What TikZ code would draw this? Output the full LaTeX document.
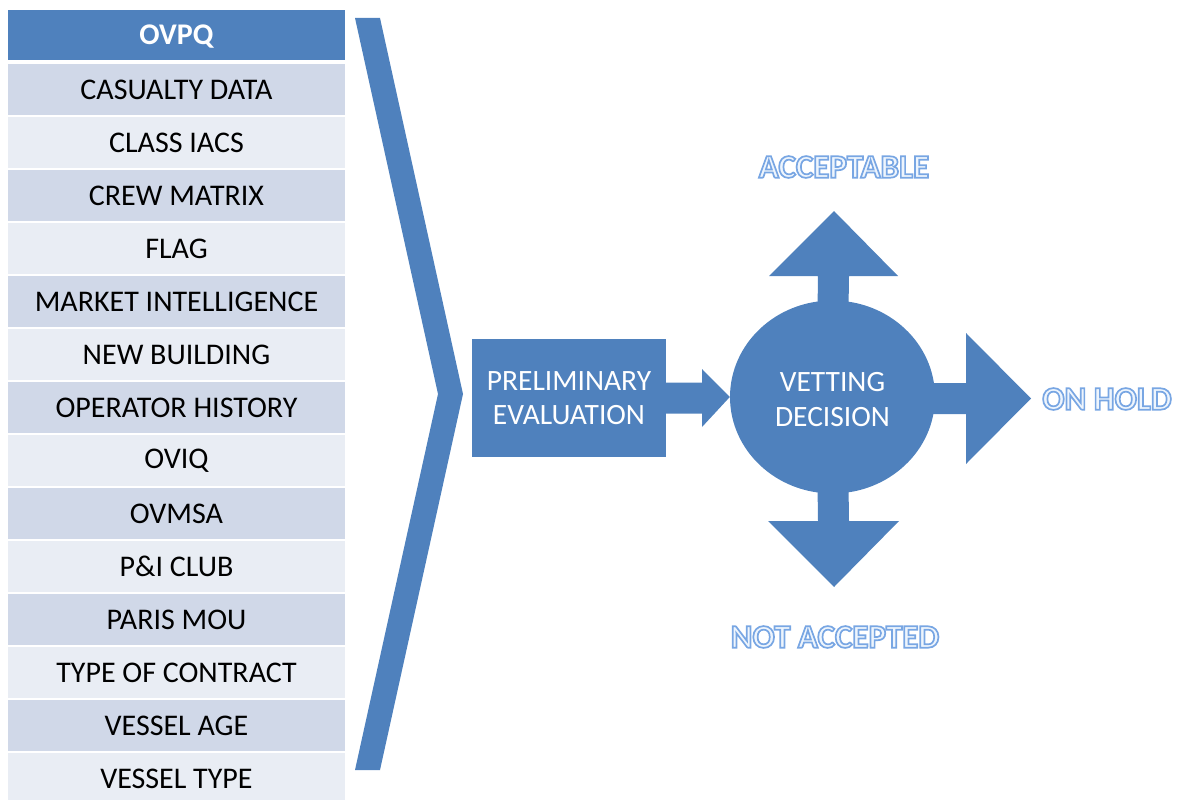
\documentclass[tikz,border=0pt]{standalone}
\usepackage{fontspec}
\setmainfont{Carlito}
\usetikzlibrary{shapes.geometric,calc}
\definecolor{hdr}{HTML}{4F81BD}
\definecolor{rowA}{HTML}{D0D8E8}
\definecolor{rowB}{HTML}{E9EDF4}
\definecolor{lblfill}{HTML}{EEF5FD}
\newcommand\outlinetext[1]{{\color{lblfill}\special{pdf:literal direct 2 Tr 1.7 w 0.47 0.65 0.89 RG}#1\special{pdf:literal direct 0 Tr 1 w}}}
\begin{document}
\begin{tikzpicture}[x=1pt,y=-1pt,
  cell/.style={rectangle, minimum width=337pt, minimum height=51pt, inner sep=0pt,
    font=\fontsize{30}{32}\selectfont, text=black},
  blue/.style={fill=hdr, draw=none},
  lbl/.style={inner sep=0pt, font=\fontsize{33}{36}\selectfont\bfseries}]
\useasboundingbox (0,0) rectangle (1179,800);
\node[cell, fill=hdr, minimum height=50pt] (h) at (176.5,35) {};
\node[text=white, inner sep=0pt, font=\fontsize{30}{32}\selectfont\bfseries] at ($(h.center)+(0,2)$) {OVPQ};
\foreach \c/\t [count=\i] in {rowA/CASUALTY DATA, rowB/CLASS IACS, rowA/CREW MATRIX, rowB/FLAG,
  rowA/MARKET INTELLIGENCE, rowB/NEW BUILDING, rowA/OPERATOR HISTORY, rowB/OVIQ, rowA/OVMSA,
  rowB/{P\&I CLUB}, rowA/PARIS MOU, rowB/TYPE OF CONTRACT, rowA/VESSEL AGE, rowB/VESSEL TYPE}
  \node[cell, fill=\c] (r\i) at (176.5,{89.5+53*(\i-1)}) {\t};
% chevron
\fill[hdr] (355,18) -- (380,18) -- (463,394) -- (380,770) -- (355,770) -- (438,394) -- cycle;
% boxes
\node[rectangle, blue, minimum width=194pt, minimum height=118pt, inner sep=0pt, text=white,
  align=center, font=\fontsize{29.5}{34.5}\selectfont] (pe) at (569,398) {PRELIMINARY\\EVALUATION};
\node[ellipse, blue, minimum width=205pt, minimum height=193pt, inner sep=0pt] (vd) at (832.5,397) {};
\node[inner sep=0pt, text=white, align=center, font=\fontsize{29.5}{35}\selectfont] at ($(vd.center)+(0,2.5)$) {VETTING\\DECISION};
% labels
\node[lbl] (acc) at (844,167) {\outlinetext{ACCEPTABLE}};
\node[lbl] (nacc) at (835,637) {\outlinetext{NOT ACCEPTED}};
\node[lbl] (hold) at (1107,399) {\outlinetext{ON HOLD}};
% block arrows
\fill[hdr] ($(pe.east)+(0,-15.5)$) -- (702,382.5) -- (702,369) -- (vd.west) -- (702,427) -- (702,413.5) -- ($(pe.east)+(0,15.5)$) -- cycle;
\fill[hdr] ($(vd.north)+(-15,10)$) -- (818,276) -- (769,276) -- (834,211) -- (898,276) -- (849,276) -- ($(vd.north)+(16,10)$) -- cycle;
\fill[hdr] ($(vd.south)+(-15,-10)$) -- (818,521) -- (768,521) -- (834,587) -- (899,521) -- (849,521) -- ($(vd.south)+(16,-10)$) -- cycle;
\fill[hdr] ($(vd.east)+(-15,-14)$) -- (966,383) -- (966,333) -- (1031,398.5) -- (966,464) -- (966,414) -- ($(vd.east)+(-15,17)$) -- cycle;
\end{tikzpicture}
\end{document}
